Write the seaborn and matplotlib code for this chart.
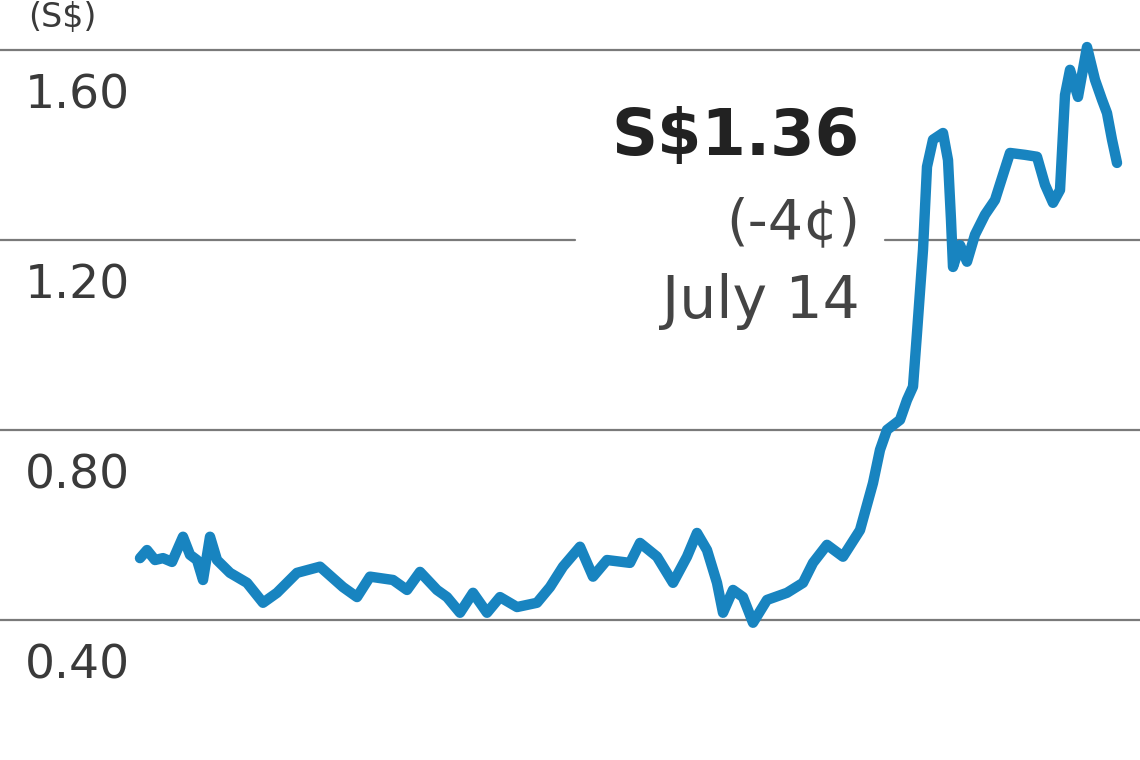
import numpy as np
import pandas as pd
import seaborn as sns
import matplotlib.pyplot as plt

# share price (trading-day index, S$)
days = [0, 7, 15, 23, 32, 43, 50, 57, 63, 70, 77, 90, 107, 123, 137, 157, 180,
        203, 217, 230, 253, 267, 280, 297, 307, 320, 333, 347, 360, 377, 397,
        410, 423, 440, 453, 467, 490, 500, 517, 533, 547, 557, 567, 577, 583,
        593, 603, 613, 627, 647, 663, 673, 687, 703, 720, 733, 740, 747, 760,
        767, 773, 777, 783, 787, 793, 803, 808, 811, 813, 820, 827, 835, 845,
        855, 863, 870, 885, 897, 905, 913, 920, 925, 930, 938, 947, 955, 962,
        967, 972, 977]
prices = [0.530, 0.547, 0.526, 0.530, 0.522, 0.575, 0.537, 0.526, 0.484, 0.575,
          0.526, 0.499, 0.478, 0.436, 0.457, 0.499, 0.512, 0.469, 0.448, 0.491,
          0.484, 0.463, 0.501, 0.463, 0.448, 0.415, 0.457, 0.415, 0.448, 0.427,
          0.436, 0.469, 0.512, 0.554, 0.491, 0.526, 0.520, 0.562, 0.533, 0.478,
          0.533, 0.583, 0.547, 0.478, 0.415, 0.463, 0.448, 0.394, 0.442, 0.457,
          0.478, 0.520, 0.558, 0.533, 0.589, 0.688, 0.758, 0.800, 0.821, 0.863,
          0.891, 1.004, 1.179, 1.354, 1.411, 1.425, 1.368, 1.242, 1.143, 1.189,
          1.154, 1.211, 1.253, 1.284, 1.337, 1.383, 1.379, 1.375, 1.316, 1.278,
          1.305, 1.505, 1.558, 1.501, 1.606, 1.537, 1.495, 1.467, 1.411, 1.362]

yticks = [1.60, 1.20, 0.80, 0.40]
tick_labels = ["1.60", "1.20", "0.80", "0.40"]
unit = "(S$)"
last_price = "S$1.36"
change = "(-4\u00a2)"
date = "July 14"

df = pd.DataFrame({"day": days, "price": prices})

sns.set_theme(style="white")
plt.rcParams["font.family"] = ["DejaVu Sans"]

fig = plt.figure(figsize=(11.4, 7.6), dpi=100)
ax = fig.add_axes([0, 0, 1, 1])

grid_col = "#7a7a7a"
for v in yticks:
    if v == 1.20:
        # gridline is broken behind the price annotation
        ax.axhline(v, xmax=575 / 1140, color=grid_col, lw=1.6, zorder=1)
        ax.axhline(v, xmin=885 / 1140, color=grid_col, lw=1.6, zorder=1)
    else:
        ax.axhline(v, color=grid_col, lw=1.6, zorder=1)

sns.lineplot(data=df, x="day", y="price", ax=ax, color="#1884c0",
             lw=7.5, zorder=3, solid_joinstyle="round", solid_capstyle="round")

ax.set_xlim(-140, 1000)
ax.set_ylim(0.105, 1.705)
ax.set_axis_off()

for v, lab in zip(yticks, tick_labels):
    ax.annotate(lab, xy=(25 / 1140, v), xycoords=("axes fraction", "data"),
                xytext=(0, -42), textcoords="offset points",
                ha="left", va="baseline", fontsize=34, color="#3a3a3a")

fig.text(28 / 1140, 1 - 18 / 760, unit, ha="left", va="center",
         fontsize=24, color="#3a3a3a")

fig.text(860 / 1140, 1 - 155 / 760, last_price, ha="right", va="baseline",
         fontsize=46, fontweight="bold", color="#222222")
fig.text(860 / 1140, 1 - 238 / 760, change, ha="right", va="baseline",
         fontsize=40, color="#444444")
fig.text(860 / 1140, 1 - 318 / 760, date, ha="right", va="baseline",
         fontsize=42, color="#444444")

fig.savefig("out.png", dpi=100)
